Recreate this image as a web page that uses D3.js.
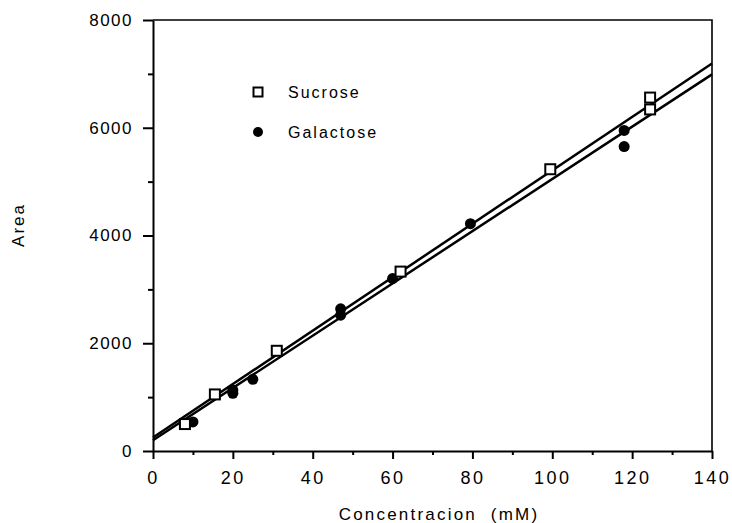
<!DOCTYPE html>
<html>

<head>
  <title>Area vs Concentracion</title>
  <meta charset="utf-8">
  <style>
    body {
      padding: 0;
      margin: 0;
      background: white;
      font-family: "Liberation Sans", Arial, sans-serif;
    }
    .axis path, .axis line {
      stroke: black;
      stroke-width: 2;
      fill: none;
    }
    .axis text {
      fill: black;
      font-family: "Liberation Sans", Arial, sans-serif;
    }
    .fit {
      fill: none;
      stroke: black;
      stroke-width: 2.5;
    }
    .sucrose {
      fill: white;
      stroke: black;
      stroke-width: 2;
    }
    .galactose {
      fill: black;
    }
  </style>
</head>

<body>
  <div id="chart"></div>

  <script src="https://d3js.org/d3.v7.min.js"></script>
  <script>

  // data
  var sucroseX = [8, 15.5, 31, 62, 99.5, 124.5, 124.5]
  var sucroseY = [500, 1050, 1860, 3330, 5230, 6560, 6340]

  var galactoseX = [10, 20, 20, 25, 47, 47, 60, 79.5, 118, 118]
  var galactoseY = [540, 1130, 1070, 1330, 2640, 2520, 3200, 4220, 5950, 5650]

  // fitted lines: intercept, slope
  var fitNames = ["Sucrose", "Galactose"]
  var fitIntercepts = [250, 200]
  var fitSlopes = [49.6, 48.5]

  var xTicks = [0, 20, 40, 60, 80, 100, 120, 140]
  var xMinorTicks = [10, 30, 50, 70, 90, 110, 130]
  var yTicks = [0, 2000, 4000, 6000, 8000]
  var yMinorTicks = [1000, 3000, 5000, 7000]

  var legendNames = ["Sucrose", "Galactose"]

  var width = 732,
      height = 523

  var svg = d3.select("#chart")
      .append("svg")
      .attr("width", width)
      .attr("height", height)

  var x = d3.scaleLinear().domain([0, 140]).range([153, 712])
  var y = d3.scaleLinear().domain([0, 8000]).range([451, 20])

  // top and right frame
  svg.append("path")
      .attr("d", "M" + x(0) + "," + y(8000) + "H" + x(140) + "V" + y(0))
      .attr("fill", "none")
      .attr("stroke", "black")
      .attr("stroke-width", 1.6)

  // minor ticks first so the major axis draws over them
  svg.append("g")
      .attr("class", "axis")
      .attr("transform", "translate(0," + y(0) + ")")
      .call(d3.axisBottom(x).tickValues(xMinorTicks).tickSize(4).tickFormat(""))
      .select(".domain").remove()

  svg.append("g")
      .attr("class", "axis")
      .attr("transform", "translate(" + x(0) + ",0)")
      .call(d3.axisLeft(y).tickValues(yMinorTicks).tickSize(5).tickFormat(""))
      .select(".domain").remove()

  var xAxis = svg.append("g")
      .attr("class", "axis")
      .attr("transform", "translate(0," + y(0) + ")")
      .call(d3.axisBottom(x).tickValues(xTicks).tickSize(8).tickSizeOuter(0)
        .tickPadding(12).tickFormat(d3.format("d")))

  xAxis.selectAll("text")
      .style("font-size", "18px")
      .style("letter-spacing", "2.5px")

  var yAxis = svg.append("g")
      .attr("class", "axis")
      .attr("transform", "translate(" + x(0) + ",0)")
      .call(d3.axisLeft(y).tickValues(yTicks).tickSize(10).tickSizeOuter(0)
        .tickPadding(10).tickFormat(d3.format("d")))

  yAxis.selectAll("text")
      .style("font-size", "17px")
      .style("letter-spacing", "1.5px")

  // axis titles
  svg.append("text")
      .attr("x", 439)
      .attr("y", 520)
      .attr("text-anchor", "middle")
      .style("font-size", "17px")
      .style("letter-spacing", "2.2px")
      .style("white-space", "pre")
      .text("Concentracion  (mM)")

  svg.append("text")
      .attr("transform", "translate(24,225) rotate(-90)")
      .attr("text-anchor", "middle")
      .style("font-size", "17px")
      .style("letter-spacing", "2px")
      .text("Area")

  // regression lines
  svg.append("g")
      .selectAll("line")
      .data(fitNames)
      .enter().append("line")
      .attr("class", "fit")
      .attr("x1", x(0))
      .attr("x2", x(140))
      .attr("y1", function (d, i) { return y(fitIntercepts[i]) })
      .attr("y2", function (d, i) { return y(fitIntercepts[i] + fitSlopes[i] * 140) })

  // galactose points
  svg.append("g")
      .selectAll("circle")
      .data(galactoseX)
      .enter().append("circle")
      .attr("class", "galactose")
      .attr("cx", function (d) { return x(d) })
      .attr("cy", function (d, i) { return y(galactoseY[i]) })
      .attr("r", 5.5)

  // sucrose points
  svg.append("g")
      .selectAll("rect")
      .data(sucroseX)
      .enter().append("rect")
      .attr("class", "sucrose")
      .attr("x", function (d) { return x(d) - 5 })
      .attr("y", function (d, i) { return y(sucroseY[i]) - 5 })
      .attr("width", 10)
      .attr("height", 10)

  // legend
  var legend = svg.append("g")
      .attr("transform", "translate(258,92)")

  legend.append("rect")
      .attr("class", "sucrose")
      .attr("x", -4.5)
      .attr("y", -4.5)
      .attr("width", 9)
      .attr("height", 9)

  legend.append("circle")
      .attr("class", "galactose")
      .attr("cy", 40)
      .attr("r", 5)

  legend.selectAll("text")
      .data(legendNames)
      .enter().append("text")
      .attr("x", 30)
      .attr("y", function (d, i) { return i * 40 + 6 })
      .style("font-size", "16px")
      .style("letter-spacing", "2px")
      .text(function (d) { return d })

  </script>
</body>

</html>
